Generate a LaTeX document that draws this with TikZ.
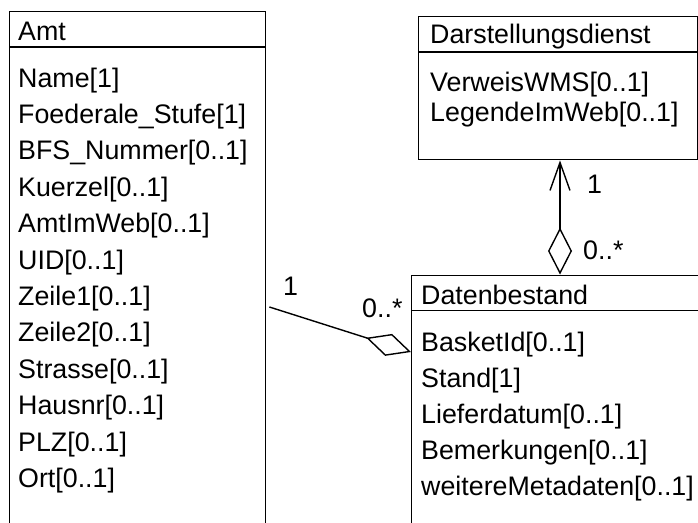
\documentclass[tikz,border=0pt]{standalone}
\usepackage{fontspec}
\setmainfont{Liberation Sans}
\usetikzlibrary{arrows.meta}
\begin{document}
\begin{tikzpicture}[x=1pt,y=-1pt,
  umlbox/.style={draw=black, line width=1.4pt, inner sep=0pt, anchor=north west},
  sepline/.style={draw=black, line width=1.4pt},
  txt/.style={anchor=base west, inner sep=0pt, text=black, font=\fontsize{26.8}{30}\selectfont},
  conn/.style={draw=black, line width=1.4pt}]
\useasboundingbox (0,0) rectangle (698,522);
\clip (0,0) rectangle (698,522);
% boxes
\node[umlbox, minimum width=256pt, minimum height=540pt] (amt) at (9,10.5) {};
\node[umlbox, minimum width=279pt, minimum height=143.5pt] (darst) at (418,15.5) {};
\node[umlbox, minimum width=300pt, minimum height=300pt] (db) at (411,274.5) {};
\draw[sepline] (amt.west |- 0,47) -- (amt.east |- 0,47);
\draw[sepline] (darst.west |- 0,52) -- (darst.east |- 0,52);
\draw[sepline] (db.west |- 0,310.5) -- (db.east |- 0,310.5);
% Amt texts
\node[txt] (amth) at (18,40.5) {Amt};
\node[txt] (a1) at (18,87) {Name[1]};
\node[txt] (a2) at (18,123.4) {Foederale\_Stufe[1]};
\node[txt] (a3) at (18,159.8) {BFS\_Nummer[0..1]};
\node[txt] (a4) at (18,196.2) {Kuerzel[0..1]};
\node[txt] (a5) at (18,232.6) {AmtImWeb[0..1]};
\node[txt] (a6) at (18,269) {UID[0..1]};
\node[txt] (a7) at (18,305.4) {Zeile1[0..1]};
\node[txt] (a8) at (18,341.8) {Zeile2[0..1]};
\node[txt] (a9) at (18,378.2) {Strasse[0..1]};
\node[txt] (a10) at (18,414.6) {Hausnr[0..1]};
\node[txt] (a11) at (18,451) {PLZ[0..1]};
\node[txt] (a12) at (18,487.4) {Ort[0..1]};
% Darstellungsdienst texts
\node[txt] (dh) at (430,43.5) {Darstellungsdienst};
\node[txt] (d1) at (430,91.5) {VerweisWMS[0..1]};
\node[txt] (d2) at (430,121.5) {LegendeImWeb[0..1]};
% Datenbestand texts
\node[txt] (bh) at (421,304.5) {Datenbestand};
\node[txt] (b1) at (421,351.5) {BasketId[0..1]};
\node[txt] (b2) at (421,387.5) {Stand[1]};
\node[txt] (b3) at (421,423.5) {Lieferdatum[0..1]};
\node[txt] (b4) at (421,459.5) {Bemerkungen[0..1]};
\node[txt] (b5) at (421,495.5) {weitereMetadaten[0..1]};
% connectors
\draw[conn, {Diamond[open,length=47pt,width=24pt]}-{Straight Barb[length=28pt,width=20pt]}]
  (db.north -| 560,0) -- (darst.south -| 560,0);
\coordinate (amtend) at ([xshift=3pt]amt.east |- 0,307);
\draw[conn, -{Diamond[open,length=47pt,width=23pt]}] (amtend) -- (db.west |- 0,352);
% multiplicities
\node[txt] (m1) at (587,193) {1};
\node[txt] (m2) at (583,259) {0..*};
\node[txt] (m3) at (283,295) {1};
\node[txt] (m4) at (362,317) {0..*};
\end{tikzpicture}
\end{document}
